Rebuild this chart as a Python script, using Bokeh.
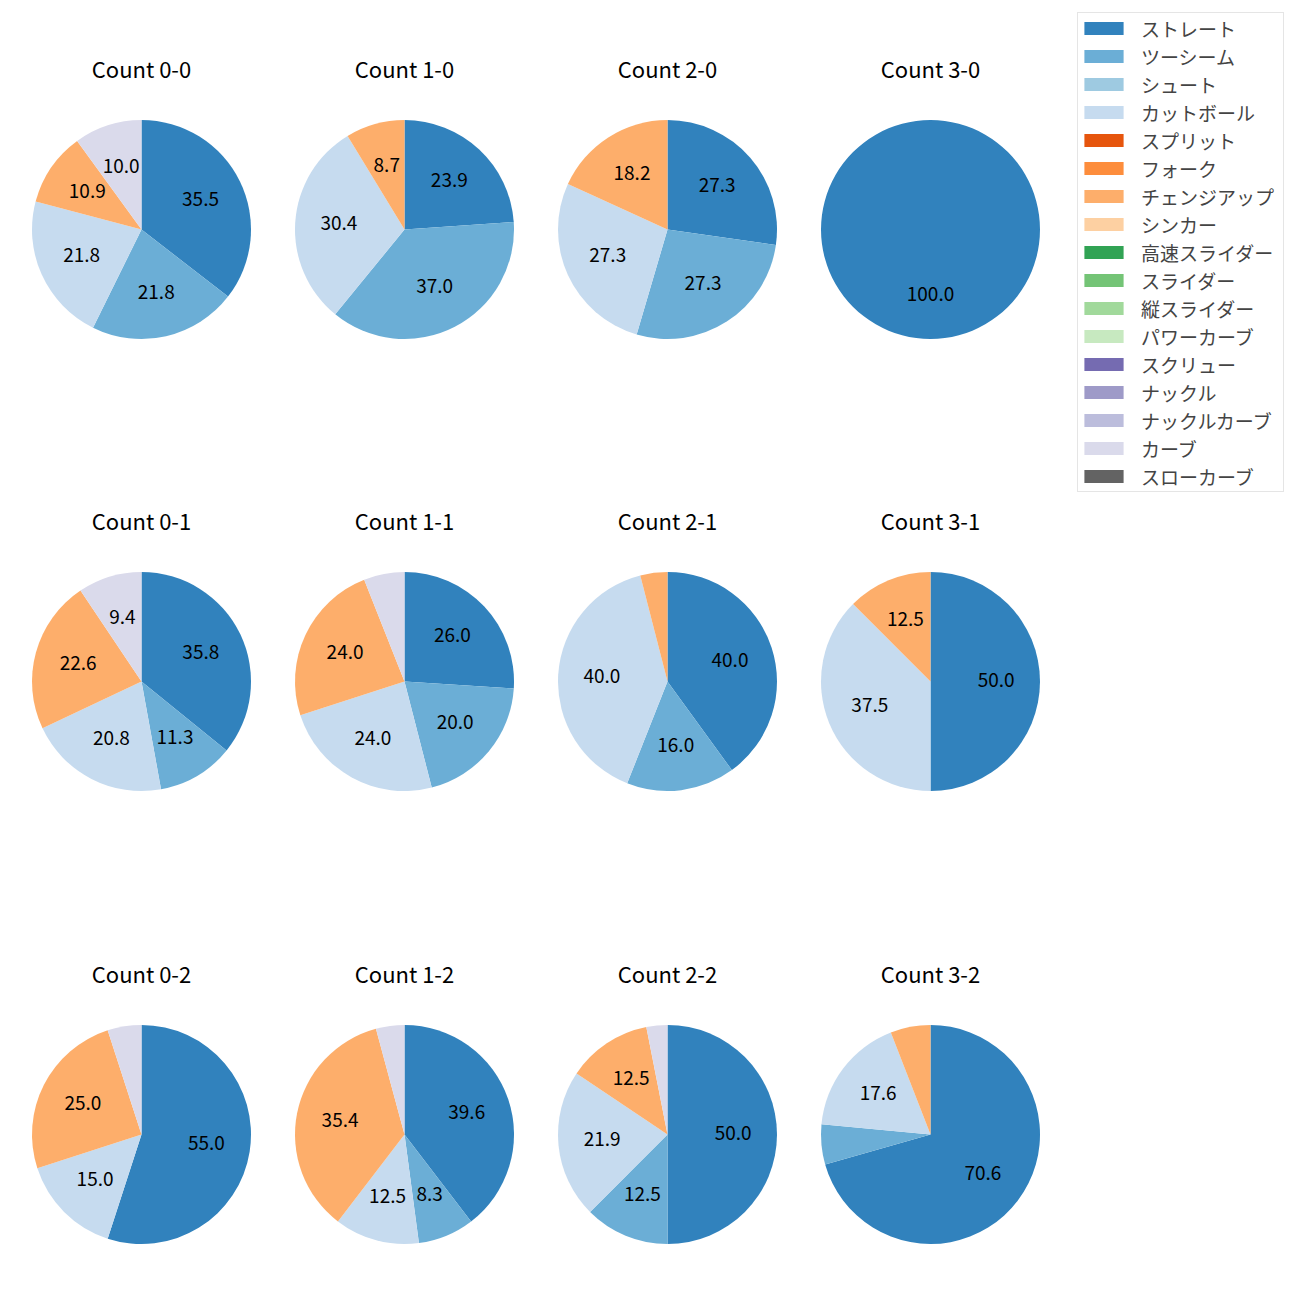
import math
from bokeh.plotting import figure
from bokeh.models import Range1d, ColumnDataSource, Legend, LegendItem
from bokeh.core.properties import value
from bokeh.embed import file_html
from bokeh.resources import INLINE

FONT = "Noto Sans CJK JP"

# ---- data -------------------------------------------------------------
counts = ["0-0", "1-0", "2-0", "3-0",
          "0-1", "1-1", "2-1", "3-1",
          "0-2", "1-2", "2-2", "3-2"]

pitch_types = ["ストレート", "ツーシーム", "シュート", "カットボール", "スプリット",
               "フォーク", "チェンジアップ", "シンカー", "高速スライダー", "スライダー",
               "縦スライダー", "パワーカーブ", "スクリュー", "ナックル", "ナックルカーブ",
               "カーブ", "スローカーブ"]
pitch_colors = ["#3182bd", "#6baed6", "#9ecae1", "#c6dbef", "#e6550d",
                "#fd8d3c", "#fdae6b", "#fdd0a2", "#31a354", "#74c476",
                "#a1d99b", "#c7e9c0", "#756bb1", "#9e9ac8", "#bcbddc",
                "#dadaeb", "#636363"]

# percentages per count (order of counts above)
straight = [35.5, 23.9, 27.3, 100.0, 35.8, 26.0, 40.0, 50.0, 55.0, 39.6, 50.0, 70.6]
twoseam  = [21.8, 37.0, 27.3, 0.0, 11.3, 20.0, 16.0, 0.0, 0.0, 8.3, 12.5, 5.9]
cutter   = [21.8, 30.4, 27.3, 0.0, 20.8, 24.0, 40.0, 37.5, 15.0, 12.5, 21.9, 17.6]
changeup = [10.9, 8.7, 18.2, 0.0, 22.6, 24.0, 4.0, 12.5, 25.0, 35.4, 12.5, 5.9]
curve    = [10.0, 0.0, 0.0, 0.0, 9.4, 6.0, 0.0, 0.0, 5.0, 4.2, 3.1, 0.0]

series = {
    "ストレート": straight,
    "ツーシーム": twoseam,
    "カットボール": cutter,
    "チェンジアップ": changeup,
    "カーブ": curve,
}

# ---- layout (page pixels) --------------------------------------------
W = H = 1284
col_px = [141, 404, 667, 930]
row_px = [229, 681, 1134]
R = 109.5
LABEL_R = 0.6 * R
TITLE_DY = 162
MIN_LABEL = 7.0


def X(px):
    return px


def Y(py):
    return H - py


p = figure(width=W, height=H, output_backend="svg", toolbar_location=None,
           x_range=Range1d(0, W), y_range=Range1d(0, H),
           x_axis_location=None, y_axis_location=None, min_border=0)
p.grid.visible = False
p.outline_line_color = None
p.background_fill_color = "white"

per_type = {t: dict(x=[], y=[], s=[], e=[]) for t in pitch_types}
lab = dict(x=[], y=[], t=[])
tit = dict(x=[], y=[], t=[])

for i, c in enumerate(counts):
    cx = X(col_px[i % 4])
    cy = Y(row_px[i // 4])
    tit["x"].append(cx)
    tit["y"].append(cy + TITLE_DY)
    tit["t"].append(f"Count {c}")
    vals = [(t, series[t][i]) for t in pitch_types if t in series and series[t][i] > 0]
    total = sum(v for _, v in vals)
    cum = 0.0
    for t, v in vals:
        a0 = math.pi / 2 - 2 * math.pi * cum / total
        cum += v
        a1 = math.pi / 2 - 2 * math.pi * cum / total
        am = (a0 + a1) / 2
        if a0 - a1 >= 2 * math.pi - 1e-9:
            a1 += 1e-4  # full circle
        d = per_type[t]
        d["x"].append(cx)
        d["y"].append(cy)
        d["s"].append(a1)
        d["e"].append(a0)
        if v >= MIN_LABEL:
            lab["x"].append(cx + LABEL_R * math.cos(am))
            lab["y"].append(cy + LABEL_R * math.sin(am) + 1.5)
            lab["t"].append(f"{v:.1f}")

for t, col in zip(pitch_types, pitch_colors):
    src = ColumnDataSource(per_type[t])
    p.wedge(x="x", y="y", radius=R, start_angle="s", end_angle="e",
            source=src, fill_color=col, line_color=None)

# legend swatches (renderers placed outside the visible range)
items = []
for t, col in zip(pitch_types, pitch_colors):
    r = p.rect(x=[-500], y=[-500], width=1, height=1, fill_color=col, line_color=None)
    items.append(LegendItem(label=t, renderers=[r]))

p.text(x="x", y="y", text="t", source=ColumnDataSource(lab),
       text_align="center", text_baseline="middle",
       text_font=value(FONT), text_font_size="19px", text_color="black")
p.text(x="x", y="y", text="t", source=ColumnDataSource(tit),
       text_align="center", text_baseline="middle",
       text_font=value(FONT), text_font_size="22px", text_color="black")

legend = Legend(items=items, location=(1077, H - 15 - 477),
                glyph_width=49, glyph_height=16, label_height=28, spacing=0,
                label_standoff=13, padding=1, label_width=141, margin=0,
                label_text_font=FONT, label_text_font_size="19px",
                border_line_color="#cccccc", border_line_width=1,
                background_fill_color="white", background_fill_alpha=0.8)
p.add_layout(legend)

open("out.html", "w").write(file_html(p, INLINE))
